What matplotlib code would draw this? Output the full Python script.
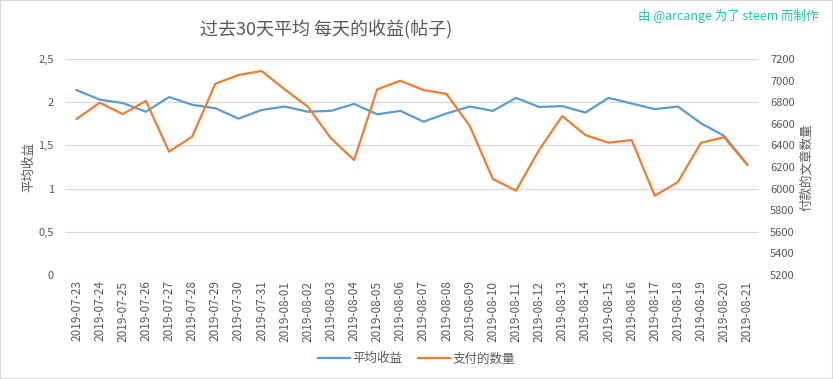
import numpy as np
import matplotlib
matplotlib.use('Agg')
import matplotlib.pyplot as plt
from matplotlib.ticker import FuncFormatter
from matplotlib.patches import Rectangle

plt.rcParams['font.family'] = ['Noto Sans CJK SC', 'DejaVu Sans']

# 日期
dates = ['2019-07-23', '2019-07-24', '2019-07-25', '2019-07-26', '2019-07-27',
         '2019-07-28', '2019-07-29', '2019-07-30', '2019-07-31', '2019-08-01',
         '2019-08-02', '2019-08-03', '2019-08-04', '2019-08-05', '2019-08-06',
         '2019-08-07', '2019-08-08', '2019-08-09', '2019-08-10', '2019-08-11',
         '2019-08-12', '2019-08-13', '2019-08-14', '2019-08-15', '2019-08-16',
         '2019-08-17', '2019-08-18', '2019-08-19', '2019-08-20', '2019-08-21']
# 平均收益
avg_reward = [2.14, 2.03, 1.99, 1.89, 2.06, 1.97, 1.93, 1.81, 1.91, 1.95,
              1.89, 1.90, 1.98, 1.86, 1.90, 1.775, 1.87, 1.95, 1.90, 2.05,
              1.945, 1.955, 1.88, 2.05, 1.985, 1.92, 1.95, 1.755, 1.61, 1.28]
# 支付的数量
paid_posts = [6645, 6795, 6690, 6812, 6342, 6481, 6971, 7052, 7089, 6919,
              6758, 6465, 6265, 6919, 6999, 6913, 6876, 6580, 6089, 5981,
              6357, 6672, 6496, 6425, 6450, 5934, 6061, 6425, 6475, 6219]

blue = '#5B9BD5'
orange = '#ED7D31'
gray = '#595959'

fig = plt.figure(figsize=(8.33, 3.79), dpi=100)
fig.patches.append(Rectangle((0, 0), 1, 1, transform=fig.transFigure,
                             fill=False, edgecolor='#d9d9d9', linewidth=1.5))
ax = fig.add_axes([0.078, 0.2744, 0.833, 0.5699])
ax2 = ax.twinx()

x = np.arange(len(dates))
l1, = ax.plot(x, avg_reward, color=blue, linewidth=1.6, label='平均收益', zorder=3)
l2, = ax2.plot(x, paid_posts, color=orange, linewidth=1.6, label='支付的数量', zorder=2)

ax.set_xlim(-0.5, len(dates) - 0.5)
ax.set_ylim(0, 2.5)
ax.set_yticks(np.arange(0, 2.51, 0.5))
ax.yaxis.set_major_formatter(FuncFormatter(lambda v, p: ('%g' % v).replace('.', ',')))
ax2.set_ylim(5200, 7200)
ax2.set_yticks(np.arange(5200, 7201, 200))

ax.set_xticks(x)
ax.set_xticklabels(dates, rotation=90, fontsize=8.5, color=gray)
ax.grid(axis='y', color='#d9d9d9', linewidth=0.9)
ax.set_axisbelow(True)
for a in (ax, ax2):
    for s in a.spines.values():
        s.set_visible(False)
    a.tick_params(length=0, labelsize=8, labelcolor=gray, pad=8)
ax.tick_params(axis='x', pad=4, labelsize=8.5)

ax.set_ylabel('平均收益', fontsize=9, color=gray, labelpad=2)
ax2.set_ylabel('付款的文章数量', fontsize=9, color=gray, labelpad=4)

fig.text(0.392, 0.92, '过去30天平均 每天的收益(帖子)', fontsize=13, color=gray,
         ha='center', va='center')
fig.text(0.983, 0.957, '由 @arcange 为了 steem 而制作', fontsize=9, color='#22c3a3',
         ha='right', va='center')

fig.legend(handles=[l1, l2], loc='center', bbox_to_anchor=(0.5, 0.053), ncol=2,
           frameon=False, fontsize=9, labelcolor=gray, handlelength=2.6,
           handletextpad=0.2, columnspacing=1.2)

fig.savefig('out.png', dpi=100)
